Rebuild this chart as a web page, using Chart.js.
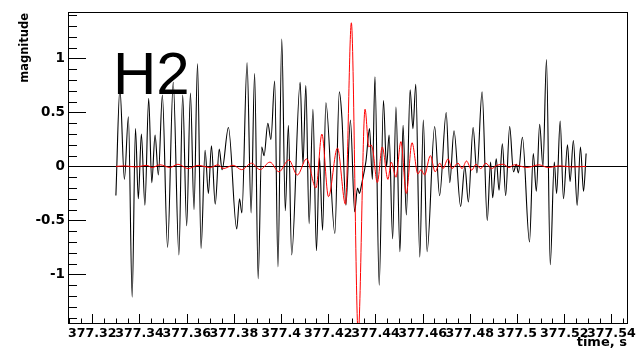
<!DOCTYPE html>
<html>
<head>
<meta charset="utf-8">
<script src="https://cdn.jsdelivr.net/npm/chart.js@4"></script>
<style>
  body { margin: 0; background: #fff; }
  canvas { display: block; }
</style>
</head>
<body>
<canvas id="h2_chart" width="639" height="355"></canvas>
<script>
// black trace (H2 strain)
const blackTime = [377.3300, 377.3317, 377.3336, 377.3353, 377.3369, 377.3383, 377.3395, 377.3408, 377.3423, 377.3439,
  377.3452, 377.3466, 377.3480, 377.3497, 377.3519, 377.3543, 377.3567, 377.3583, 377.3600, 377.3616,
  377.3631, 377.3646, 377.3661, 377.3678, 377.3692, 377.3705, 377.3721, 377.3738, 377.3750, 377.3777,
  377.3812, 377.3824, 377.3834, 377.3856, 377.3873, 377.3888, 377.3903, 377.3918, 377.3928, 377.3944,
  377.3957, 377.3973, 377.3987, 377.4003, 377.4018, 377.4031, 377.4045, 377.4081, 377.4093, 377.4105,
  377.4119, 377.4135, 377.4150, 377.4163, 377.4176, 377.4190, 377.4228, 377.4247, 377.4258, 377.4275,
  377.4294, 377.4312, 377.4324, 377.4332, 377.4341, 377.4360, 377.4375, 377.4387, 377.4398, 377.4416,
  377.4434, 377.4447, 377.4458, 377.4473, 377.4487, 377.4504, 377.4517, 377.4531, 377.4547, 377.4559,
  377.4571, 377.4588, 377.4603, 377.4619, 377.4651, 377.4672, 377.4700, 377.4715, 377.4733, 377.4761,
  377.4779, 377.4794, 377.4814, 377.4830, 377.4852, 377.4874, 377.4888, 377.4897, 377.4912, 377.4924,
  377.4938, 377.4952, 377.4969, 377.4985, 377.4997, 377.5006, 377.5023, 377.5053, 377.5069, 377.5082,
  377.5096, 377.5110, 377.5125, 377.5141, 377.5158, 377.5168, 377.5183, 377.5197, 377.5214, 377.5225,
  377.5239, 377.5255, 377.5269, 377.5282, 377.5293];
const blackMag = [-0.27, 0.72, -0.12, 0.46, -1.21, 0.35, -0.30, 0.30, -0.36, 0.63,
  -0.15, 0.29, -0.08, 0.66, -0.75, 0.78, -0.82, 0.66, -0.55, 0.68,
  -0.40, 0.95, -0.76, 0.15, -0.25, 0.19, -0.35, 0.16, -0.03, 0.36,
  -0.58, -0.30, -0.43, 0.96, -0.43, 0.86, -1.04, 0.18, 0.10, 0.40,
  0.25, 0.79, -0.93, 1.18, -0.41, 0.38, -0.82, 0.78, 0.02, 0.75,
  -0.53, 0.53, -0.78, 0.08, -0.59, 0.59, -0.62, 0.69, 0.45, -0.36,
  0.43, -0.42, -0.20, -0.25, -0.17, 0.05, 0.35, -0.12, 0.83, -1.10,
  0.61, 0.00, 0.29, -0.67, 0.55, -0.79, 0.38, -0.45, 0.71, 0.35,
  0.76, -0.84, 0.43, -0.79, 0.37, -0.27, 0.50, -0.15, 0.33, -0.37,
  0.00, -0.33, 0.36, -0.06, 0.69, -0.50, 0.04, -0.29, 0.07, -0.22,
  0.21, -0.27, 0.37, -0.05, 0.02, -0.06, 0.27, -0.70, 0.12, -0.23,
  0.39, 0.00, 0.99, -0.91, 0.04, -0.25, 0.42, -0.30, 0.20, -0.14,
  0.24, -0.36, 0.18, -0.23, 0.12];

// red trace (template)
const redTime = [377.3300, 377.3339, 377.3381, 377.3432, 377.3453, 377.3487, 377.3529, 377.3563, 377.3606, 377.3648,
  377.3699, 377.3733, 377.3755, 377.3797, 377.3833, 377.3875, 377.3911, 377.3953, 377.3991, 377.4033,
  377.4069, 377.4108, 377.4148, 377.4173, 377.4201, 377.4239, 377.4273, 377.4298, 377.4327, 377.4356,
  377.4372, 377.4381, 377.4389, 377.4408, 377.4429, 377.4453, 377.4467, 377.4487, 377.4508, 377.4531,
  377.4555, 377.4580, 377.4593, 377.4608, 377.4633, 377.4653, 377.4673, 377.4686, 377.4708, 377.4724,
  377.4750, 377.4767, 377.4786, 377.4808, 377.4826, 377.4846, 377.4868, 377.4892, 377.4915, 377.4942,
  377.4966, 377.4989, 377.5042, 377.5093, 377.5131, 377.5182, 377.5233, 377.5293];
const redMag = [0.00, 0.005, -0.005, 0.01, -0.01, 0.015, -0.01, 0.02, -0.02, 0.01,
  -0.01, 0.015, -0.02, 0.01, -0.03, 0.03, -0.03, 0.04, -0.05, 0.06,
  -0.08, 0.07, -0.20, 0.30, -0.28, 0.17, -0.35, 1.33, -1.55, 0.53,
  0.18, 0.20, 0.15, -0.15, 0.18, -0.12, 0.04, -0.10, 0.23, -0.25,
  0.22, -0.07, -0.03, -0.08, 0.10, -0.05, 0.03, -0.02, 0.07, -0.02,
  0.03, -0.02, 0.05, -0.035, 0.02, -0.02, 0.03, -0.02, 0.01, 0.02,
  -0.01, 0.015, -0.01, 0.015, -0.01, 0.005, -0.005, 0.00];

const xTickValues = [377.32, 377.34, 377.36, 377.38, 377.40, 377.42, 377.44, 377.46, 377.48, 377.50, 377.52, 377.54];
const xTickLabels = ["377.32", "377.34", "377.36", "377.38", "377.4", "377.42", "377.44", "377.46", "377.48", "377.5", "377.52", "377.54"];
const yTickValues = [-1, -0.5, 0, 0.5, 1];
const yTickLabels = ["-1", "-0.5", "0", "0.5", "1"];

const xMin = 377.3097, xMax = 377.5466;
const yMin = -1.45, yMax = 1.43;

function toPoints(xs, ys) {
  return xs.map((x, i) => ({x: x, y: ys[i]}));
}

// ROOT style: frame, ticks inside, zero line, titles and the H2 label
const rootStyle = {
  id: 'rootStyle',
  beforeDatasetsDraw(chart) {
    const ctx = chart.ctx, a = chart.chartArea;
    const y = chart.scales.y;
    ctx.save();
    ctx.strokeStyle = '#000';
    ctx.lineWidth = 1;
    // zero line
    const y0 = Math.round(y.getPixelForValue(0)) + 0.5;
    ctx.beginPath();
    ctx.moveTo(a.left, y0);
    ctx.lineTo(a.right, y0);
    ctx.stroke();
    ctx.restore();
  },
  afterDraw(chart) {
    const ctx = chart.ctx, a = chart.chartArea;
    const x = chart.scales.x, y = chart.scales.y;
    ctx.save();
    ctx.strokeStyle = '#000';
    ctx.lineWidth = 1;
    ctx.strokeRect(Math.round(a.left) + 0.5, Math.round(a.top) + 0.5,
      Math.round(a.right - a.left), Math.round(a.bottom - a.top));

    // y ticks, major every 0.5, minor every 0.1
    ctx.beginPath();
    for (let k = -14; k <= 14; k++) {
      const v = k / 10;
      const py = Math.round(y.getPixelForValue(v)) + 0.5;
      const len = (k % 5 === 0) ? 18 : 9;
      ctx.moveTo(a.left, py);
      ctx.lineTo(a.left + len, py);
    }
    // x ticks, major every 0.02, minor every 0.005
    for (let k = 0; k <= 47; k++) {
      const v = 377.31 + k * 0.005;
      if (v > xMax) break;
      const px = Math.round(x.getPixelForValue(v)) + 0.5;
      const len = ((k + 2) % 4 === 0) ? 9 : 4.5;
      ctx.moveTo(px, a.bottom);
      ctx.lineTo(px, a.bottom - len);
    }
    ctx.stroke();

    ctx.fillStyle = '#000';
    ctx.font = 'bold 13px "DejaVu Sans"';
    ctx.textAlign = 'right';
    ctx.textBaseline = 'alphabetic';
    ctx.fillText('time, s', a.right, 346);

    ctx.save();
    ctx.translate(25, 13);
    ctx.rotate(-Math.PI / 2);
    ctx.font = 'bold 11.5px "DejaVu Sans"';
    ctx.textAlign = 'right';
    ctx.textBaseline = 'middle';
    ctx.fillText('magnitude', 0, 0);
    ctx.restore();

    ctx.font = '60px "Liberation Sans"';
    ctx.textAlign = 'left';
    ctx.textBaseline = 'alphabetic';
    ctx.fillText('H2', 113, 93.5);
    ctx.restore();
  }
};

new Chart(document.getElementById('h2_chart'), {
  type: 'line',
  data: {
    datasets: [
      {
        label: 'template',
        data: toPoints(redTime, redMag),
        borderColor: '#ff0000',
        borderWidth: 1,
        pointRadius: 0,
        cubicInterpolationMode: 'monotone',
        order: 0
      },
      {
        label: 'H2',
        data: toPoints(blackTime, blackMag),
        borderColor: '#000000',
        borderWidth: 1.1,
        pointRadius: 0,
        cubicInterpolationMode: 'monotone',
        order: 1
      }
    ]
  },
  options: {
    responsive: false,
    animation: false,
    devicePixelRatio: 1,
    layout: { padding: { top: 12, right: 12, left: 0, bottom: 0 } },
    plugins: { legend: { display: false }, tooltip: { enabled: false } },
    scales: {
      x: {
        type: 'linear',
        min: xMin,
        max: xMax,
        grid: { display: false, drawTicks: false },
        border: { display: false },
        afterBuildTicks(scale) { scale.ticks = xTickValues.map(v => ({value: v})); },
        afterFit(scale) { scale.height = 32; },
        ticks: {
          autoSkip: false,
          maxRotation: 0,
          padding: 3,
          color: '#000',
          font: { family: 'DejaVu Sans', weight: 'bold', size: 12.6 },
          callback: (v, i) => xTickLabels[i]
        }
      },
      y: {
        type: 'linear',
        min: yMin,
        max: yMax,
        grid: { display: false, drawTicks: false },
        border: { display: false },
        afterBuildTicks(scale) { scale.ticks = yTickValues.map(v => ({value: v})); },
        afterFit(scale) { scale.width = 68; },
        ticks: {
          padding: 3,
          color: '#000',
          font: { family: 'DejaVu Sans', weight: 'bold', size: 13.5 },
          callback: (v, i) => yTickLabels[i]
        }
      }
    }
  },
  plugins: [rootStyle]
});
</script>
</body>
</html>
